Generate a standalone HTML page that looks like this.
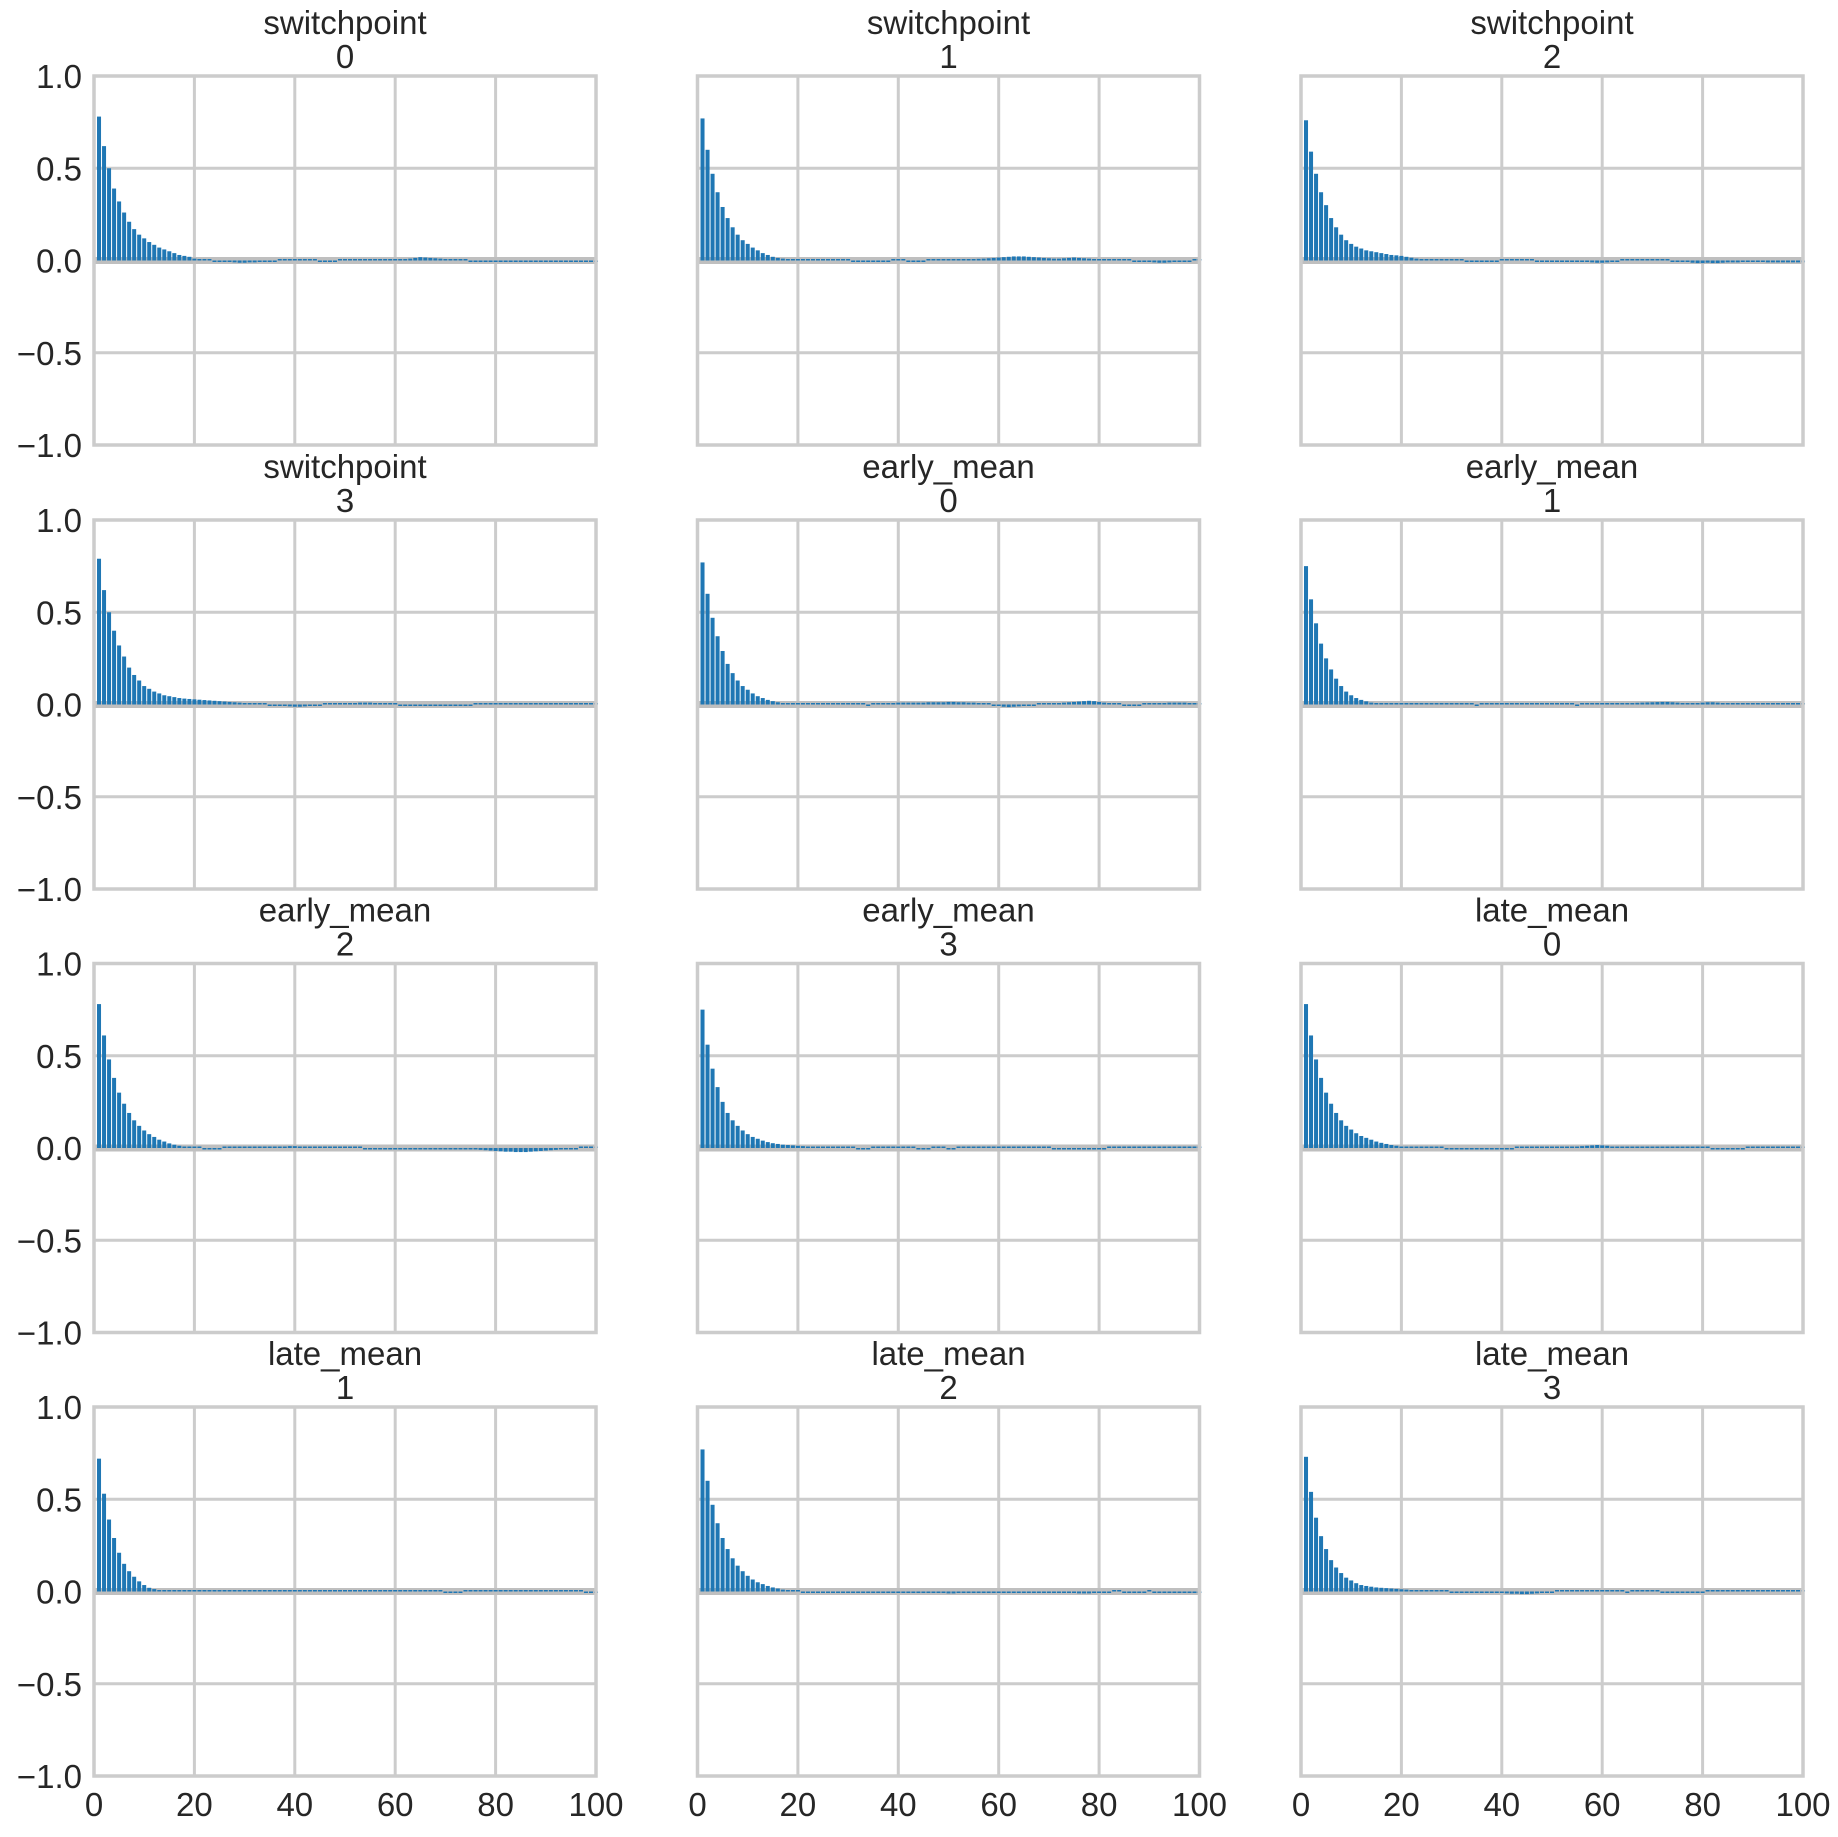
<!DOCTYPE html>
<html><head><meta charset="utf-8"><style>
html,body{margin:0;padding:0;background:#fff;}
svg{display:block;font-family:"Liberation Sans",Arial,sans-serif;}
</style></head><body>
<svg id="chart" width="1838" height="1837" viewBox="0 0 1838 1837" xmlns="http://www.w3.org/2000/svg"></svg>
<script>
const varNames = ["switchpoint","switchpoint","switchpoint","switchpoint","early_mean","early_mean","early_mean","early_mean","late_mean","late_mean","late_mean","late_mean"];
const chainIds = ["0","1","2","3","0","1","2","3","0","1","2","3"];
const yTicks = [-1.0,-0.5,0.0,0.5,1.0];
const yTickLabels = ["\u22121.0","\u22120.5","0.0","0.5","1.0"];
const xTicks = [0,20,40,60,80,100];
const xTickLabels = ["0","20","40","60","80","100"];

const acf0 = [0.78,0.62,0.50,0.39,0.32,0.26,0.21,0.17,0.14,0.12,0.10,0.085,0.07,0.06,0.05,0.04,0.03,0.025,0.02,0.01,0.005,0.003,0.001,-0.002,-0.004,-0.006,-0.008,-0.01,-0.012,-0.012,-0.01,-0.01,-0.008,-0.006,-0.004,-0.002,0.001,0.002,0.001,0.0,0.002,0.003,0.002,0.001,-0.002,-0.004,-0.003,-0.002,0.0,0.001,0.002,0.003,0.004,0.006,0.008,0.008,0.008,0.006,0.004,0.003,0.004,0.006,0.01,0.014,0.018,0.016,0.014,0.012,0.01,0.008,0.006,0.004,0.002,0.0,-0.002,-0.003,-0.005,-0.006,-0.006,-0.006,-0.006,-0.006,-0.006,-0.006,-0.006,-0.006,-0.005,-0.004,-0.004,-0.003,-0.003,-0.002,-0.002,-0.002,-0.002,-0.002,-0.002,-0.002,-0.002,-0.002];
const acf1 = [0.77,0.60,0.47,0.37,0.29,0.23,0.18,0.14,0.11,0.09,0.07,0.055,0.04,0.03,0.02,0.014,0.01,0.008,0.006,0.005,0.004,0.004,0.004,0.003,0.003,0.003,0.002,0.002,0.001,0.0,-0.001,-0.002,-0.003,-0.004,-0.004,-0.003,-0.002,-0.001,0.0,0.001,0.0,-0.001,-0.002,-0.002,-0.001,0.0,0.001,0.002,0.003,0.003,0.004,0.005,0.006,0.007,0.008,0.009,0.01,0.012,0.014,0.016,0.018,0.02,0.022,0.022,0.022,0.02,0.018,0.016,0.014,0.012,0.01,0.01,0.012,0.014,0.016,0.014,0.012,0.01,0.008,0.006,0.005,0.004,0.003,0.002,0.001,0.0,-0.002,-0.004,-0.006,-0.008,-0.01,-0.012,-0.012,-0.01,-0.008,-0.006,-0.004,-0.002,0.0,0.002];
const acf2 = [0.76,0.59,0.47,0.37,0.30,0.23,0.18,0.14,0.11,0.09,0.075,0.065,0.055,0.05,0.045,0.04,0.035,0.03,0.028,0.025,0.02,0.015,0.01,0.008,0.005,0.0,0.0,0.003,0.0,0.004,0.004,0.0,-0.004,-0.006,-0.008,-0.008,-0.006,-0.004,-0.004,0.0,0.0,0.0,0.0,0.0,0.0,0.0,-0.002,-0.004,-0.004,-0.006,-0.008,-0.008,-0.008,-0.008,-0.008,-0.008,-0.008,-0.01,-0.012,-0.012,-0.01,-0.006,-0.004,0.0,0.0,0.0,0.0,0.0,0.003,0.003,0.0,0.0,0.0,-0.002,-0.004,-0.006,-0.008,-0.012,-0.014,-0.014,-0.012,-0.014,-0.014,-0.012,-0.01,-0.01,-0.01,-0.008,-0.006,-0.008,-0.006,-0.008,-0.01,-0.01,-0.01,-0.01,-0.01,-0.01,-0.01,-0.01];
const acf3 = [0.79,0.62,0.50,0.40,0.32,0.26,0.20,0.16,0.13,0.10,0.085,0.07,0.06,0.05,0.045,0.04,0.035,0.032,0.03,0.028,0.026,0.024,0.022,0.02,0.018,0.016,0.014,0.012,0.01,0.008,0.006,0.004,0.002,0.0,-0.002,-0.004,-0.006,-0.008,-0.01,-0.012,-0.012,-0.01,-0.008,-0.004,-0.002,0.0,0.001,0.002,0.003,0.004,0.006,0.008,0.01,0.01,0.01,0.008,0.006,0.004,0.002,0.0,-0.002,-0.004,-0.004,-0.004,-0.004,-0.004,-0.004,-0.004,-0.004,-0.004,-0.004,-0.004,-0.004,-0.004,-0.002,0.0,0.002,0.006,0.008,0.006,0.004,0.002,0.001,0.001,0.001,0.001,0.001,0.001,0.001,0.001,0.001,0.001,0.001,0.001,0.001,0.001,0.001,0.001,0.001,0.001];
const acf4 = [0.77,0.60,0.47,0.37,0.29,0.22,0.17,0.13,0.10,0.08,0.06,0.045,0.035,0.025,0.018,0.012,0.008,0.005,0.003,0.002,0.001,0.0,0.0,0.0,0.0,0.0,0.0,0.0,0.0,0.0,0.0,0.0,0.0,-0.002,0.0,0.002,0.004,0.006,0.008,0.01,0.01,0.01,0.01,0.01,0.01,0.012,0.012,0.012,0.012,0.014,0.014,0.012,0.012,0.01,0.01,0.008,0.006,0.002,-0.004,-0.008,-0.012,-0.014,-0.012,-0.01,-0.008,-0.004,-0.002,0.0,0.002,0.004,0.006,0.008,0.01,0.012,0.014,0.016,0.018,0.02,0.018,0.014,0.01,0.006,0.002,0.0,-0.002,-0.002,-0.002,-0.002,0.0,0.002,0.004,0.006,0.008,0.01,0.01,0.01,0.01,0.008,0.006,0.004];
const acf5 = [0.75,0.57,0.44,0.33,0.25,0.19,0.14,0.10,0.07,0.05,0.035,0.025,0.017,0.01,0.006,0.003,0.002,0.001,0.0,0.0,0.0,0.0,0.0,0.002,0.003,0.004,0.005,0.006,0.006,0.006,0.005,0.004,0.002,0.0,-0.002,0.0,0.002,0.004,0.004,0.004,0.004,0.005,0.006,0.006,0.006,0.006,0.006,0.006,0.006,0.006,0.006,0.004,0.002,0.0,-0.002,0.0,0.002,0.004,0.004,0.004,0.004,0.004,0.005,0.006,0.007,0.008,0.009,0.01,0.011,0.012,0.013,0.014,0.014,0.012,0.01,0.008,0.006,0.006,0.008,0.01,0.012,0.012,0.01,0.008,0.006,0.004,0.002,0.0,0.0,0.0,0.0,0.0,0.0,0.0,0.0,0.0,0.0,0.0,0.0,0.0];
const acf6 = [0.78,0.61,0.48,0.38,0.30,0.24,0.19,0.15,0.12,0.095,0.075,0.06,0.045,0.035,0.025,0.018,0.012,0.008,0.005,0.003,0.0,-0.002,-0.004,-0.004,-0.002,0.0,0.0,0.0,0.0,0.0,0.0,0.0,0.002,0.003,0.004,0.005,0.006,0.008,0.01,0.01,0.008,0.006,0.004,0.002,0.001,0.001,0.0,0.0,0.0,0.0,0.0,0.0,0.0,-0.001,-0.002,-0.002,-0.003,-0.003,-0.004,-0.004,-0.004,-0.004,-0.005,-0.005,-0.005,-0.005,-0.004,-0.004,-0.004,-0.004,-0.004,-0.004,-0.004,-0.004,-0.006,-0.008,-0.01,-0.012,-0.014,-0.016,-0.018,-0.02,-0.02,-0.022,-0.022,-0.022,-0.02,-0.018,-0.016,-0.014,-0.012,-0.01,-0.008,-0.006,-0.004,-0.002,0.0,0.002,0.004,0.006];
const acf7 = [0.75,0.56,0.43,0.33,0.25,0.19,0.15,0.12,0.095,0.075,0.06,0.05,0.04,0.032,0.026,0.022,0.018,0.016,0.014,0.012,0.01,0.008,0.006,0.004,0.002,0.0,0.0,0.0,0.0,0.0,0.0,-0.002,-0.003,-0.002,0.0,0.0,0.0,0.0,0.0,0.0,0.0,0.0,0.0,-0.002,-0.004,-0.002,0.0,0.002,0.004,-0.004,-0.002,0.0,0.002,0.004,0.004,0.004,0.004,0.002,0.0,0.0,0.0,0.0,0.0,0.002,0.002,0.002,0.002,0.002,0.0,0.0,-0.002,-0.004,-0.004,-0.004,-0.004,-0.004,-0.004,-0.004,-0.004,-0.004,-0.002,0.0,0.0,0.0,0.0,0.002,0.002,0.002,0.002,0.002,0.002,0.002,0.002,0.002,0.002,0.002,0.002,0.002,0.002,0.002];
const acf8 = [0.78,0.61,0.48,0.38,0.30,0.24,0.19,0.15,0.12,0.10,0.08,0.065,0.055,0.045,0.035,0.028,0.022,0.016,0.012,0.008,0.005,0.003,0.002,0.0,0.0,0.0,0.0,0.0,-0.002,-0.002,-0.002,-0.004,-0.004,-0.006,-0.006,-0.006,-0.006,-0.006,-0.006,-0.006,-0.004,-0.002,0.0,0.0,0.0,0.0,0.0,0.0,0.0,0.0,0.0,0.002,0.004,0.006,0.008,0.01,0.012,0.014,0.016,0.014,0.012,0.008,0.004,0.0,0.0,0.0,0.0,0.0,0.0,0.0,0.0,0.0,0.0,0.0,0.0,0.0,0.0,0.0,0.0,0.0,0.0,-0.004,-0.004,-0.006,-0.006,-0.006,-0.004,-0.002,0.0,0.002,0.004,0.006,0.008,0.008,0.008,0.008,0.008,0.008,0.008,0.006];
const acf9 = [0.72,0.53,0.39,0.29,0.21,0.15,0.11,0.08,0.055,0.035,0.02,0.013,0.008,0.006,0.006,0.006,0.006,0.005,0.004,0.0,0.0,0.0,0.0,0.0,0.0,0.0,0.0,0.0,0.0,0.0,0.0,0.0,0.0,0.0,0.0,0.0,0.0,0.0,0.002,0.004,0.004,0.004,0.002,0.0,0.0,0.0,0.0,0.002,0.002,0.004,0.004,0.006,0.006,0.004,0.002,0.0,0.0,0.0,0.0,0.0,0.0,0.0,0.0,0.0,0.0,0.0,0.0,0.0,0.0,-0.002,-0.002,-0.004,-0.002,0.0,0.0,0.0,0.002,0.004,0.004,0.004,0.004,0.004,0.004,0.004,0.004,0.004,0.004,0.004,0.006,0.006,0.004,0.004,0.002,0.0,0.0,0.0,0.0,-0.002,-0.004,-0.006];
const acf10 = [0.77,0.60,0.47,0.37,0.29,0.23,0.18,0.14,0.11,0.085,0.065,0.05,0.04,0.03,0.022,0.016,0.01,0.006,0.003,0.0,-0.002,-0.004,-0.004,-0.004,-0.004,-0.004,-0.004,-0.004,-0.004,-0.004,-0.004,-0.004,-0.004,-0.004,-0.004,-0.004,-0.004,-0.004,-0.004,-0.004,-0.004,-0.006,-0.006,-0.006,-0.008,-0.008,-0.008,-0.008,-0.008,-0.01,-0.01,-0.008,-0.008,-0.006,-0.006,-0.006,-0.006,-0.004,-0.004,-0.004,-0.006,-0.006,-0.006,-0.006,-0.006,-0.006,-0.008,-0.008,-0.006,-0.004,-0.004,-0.004,-0.004,-0.006,-0.008,-0.01,-0.01,-0.01,-0.008,-0.006,-0.004,-0.002,0.0,0.0,-0.002,-0.004,-0.004,-0.004,-0.002,0.0,-0.002,-0.004,-0.004,-0.004,-0.004,-0.004,-0.004,-0.004,-0.004,-0.004];
const acf11 = [0.73,0.54,0.40,0.30,0.23,0.17,0.13,0.10,0.075,0.06,0.045,0.035,0.03,0.026,0.022,0.02,0.018,0.016,0.014,0.012,0.01,0.008,0.006,0.004,0.002,0.0,0.0,0.0,0.0,-0.002,-0.004,-0.006,-0.006,-0.008,-0.008,-0.006,-0.004,-0.004,-0.006,-0.008,-0.01,-0.012,-0.012,-0.014,-0.014,-0.012,-0.01,-0.008,-0.006,-0.004,0.0,0.002,0.004,0.004,0.004,0.004,0.004,0.002,0.0,0.0,0.0,0.0,0.0,0.0,-0.002,0.0,0.0,0.0,0.0,0.0,0.0,-0.002,-0.004,-0.006,-0.006,-0.006,-0.006,-0.006,-0.004,-0.002,0.0,0.0,0.0,0.0,0.0,0.0,0.0,0.002,0.004,0.004,0.004,0.006,0.004,0.002,0.002,0.002,0.002,0.002,0.002,0.002];
const series = [acf0,acf1,acf2,acf3,acf4,acf5,acf6,acf7,acf8,acf9,acf10,acf11];

const NS = "http://www.w3.org/2000/svg";
const svg = document.getElementById("chart");
const colLeft = [94, 697.5, 1301];
const rowTop = [76, 520, 963.5, 1407];
const PW = 502, PH = 369;
const FS = 33;

function mk(tag, attrs, parent) {
  const e = document.createElementNS(NS, tag);
  for (const k in attrs) e.setAttribute(k, attrs[k]);
  parent.appendChild(e);
  return e;
}

series.forEach((vals, i) => {
  const r = Math.floor(i / 3), c = i % 3;
  const L = colLeft[c], T = rowTop[r];
  const xs = v => L + (v / 100) * PW;
  const ys = v => T + (1 - v) / 2 * PH;
  const g = mk("g", {}, svg);
  
  

  yTicks.forEach(t => {
    const ln = mk("line", {x1: L, x2: L + PW, y1: ys(t), y2: ys(t), stroke: "#cccccc", "stroke-width": 3}, g);
    
    
  });
  xTicks.forEach(t => {
    const ln = mk("line", {x1: xs(t), x2: xs(t), y1: T, y2: T + PH, stroke: "#cccccc", "stroke-width": 3}, g);
    
    
  });
  const z = mk("line", {x1: L, x2: L + PW, y1: ys(0), y2: ys(0), stroke: "#bfbfbf", "stroke-width": 7}, g);
  
  
  const bw = PW / 100 * 0.8;
  vals.forEach((v, k) => {
    const lag = k + 1;
    const y0 = ys(0), y1 = ys(v);
    const h = Math.max(Math.abs(y1 - y0), 1.5);
    const top = v >= 0 ? y0 - h : y0;
    const b = mk("rect", {x: xs(lag) - bw / 2, y: top, width: bw, height: h, fill: "#1f77b4"}, g);
    
    
  });
  const fr = mk("rect", {x: L, y: T, width: PW, height: PH, fill: "none", stroke: "#cccccc", "stroke-width": 3.5}, g);
  
  
  const t1 = mk("text", {x: L + PW / 2, y: T - 42, "text-anchor": "middle", "font-size": FS, fill: "#262626"}, g);
  t1.textContent = varNames[i];
  
  
  const t2 = mk("text", {x: L + PW / 2, y: T - 8, "text-anchor": "middle", "font-size": FS, fill: "#262626"}, g);
  t2.textContent = chainIds[i];
  
  
  if (c === 0) {
    yTicks.forEach((t, j) => {
      const tx = mk("text", {x: L - 12, y: ys(t) + 12, "text-anchor": "end", "font-size": FS, fill: "#262626"}, g);
      tx.textContent = yTickLabels[j];
      
      
    });
  }
  if (r === 3) {
    xTicks.forEach((t, j) => {
      const tx = mk("text", {x: xs(t), y: T + PH + 40, "text-anchor": "middle", "font-size": FS, fill: "#262626"}, g);
      tx.textContent = xTickLabels[j];
      
      
    });
  }
});
</script>
</body></html>
